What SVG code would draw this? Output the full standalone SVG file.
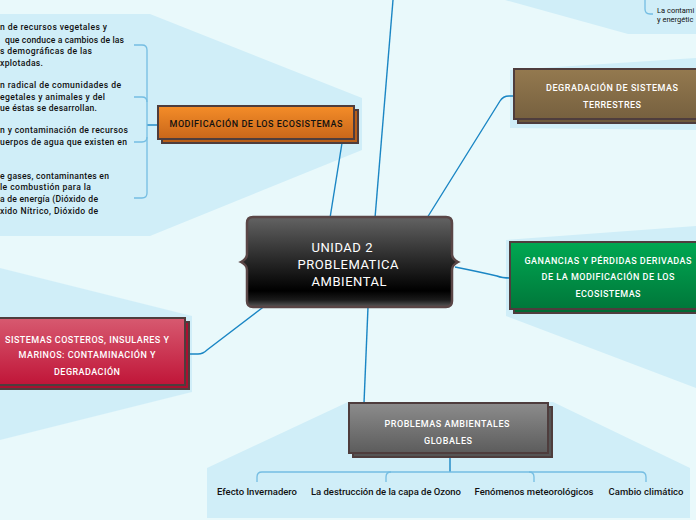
<svg xmlns="http://www.w3.org/2000/svg" width="696" height="520" viewBox="0 0 696 520">
<defs>
<linearGradient id="gOrange" x1="0" y1="0" x2="0" y2="1"><stop offset="0" stop-color="#f58d28"/><stop offset="1" stop-color="#c8661a"/></linearGradient>
<linearGradient id="gBrown" x1="0" y1="0" x2="0" y2="1"><stop offset="0" stop-color="#94794f"/><stop offset="1" stop-color="#76603f"/></linearGradient>
<linearGradient id="gGreen" x1="0" y1="0" x2="0" y2="1"><stop offset="0" stop-color="#00a852"/><stop offset="1" stop-color="#00773a"/></linearGradient>
<linearGradient id="gRed" x1="0" y1="0" x2="0" y2="1"><stop offset="0" stop-color="#d75a70"/><stop offset="1" stop-color="#c01538"/></linearGradient>
<linearGradient id="gGray" x1="0" y1="0" x2="0" y2="1"><stop offset="0" stop-color="#8c8c8c"/><stop offset="1" stop-color="#5c5c5c"/></linearGradient>
<linearGradient id="gCenter" x1="0" y1="0" x2="0" y2="1"><stop offset="0" stop-color="#636363"/><stop offset="0.45" stop-color="#2c2c2c"/><stop offset="0.82" stop-color="#000"/><stop offset="0.92" stop-color="#1a1a1a"/><stop offset="1" stop-color="#5a5a5a"/></linearGradient>
<style>
.panel{fill:#d0eef8}
.box{stroke:#4e3d3d;stroke-width:2}
.wt{font-family:Roboto,"Liberation Sans",sans-serif;font-size:9px;fill:#fff;text-anchor:middle;font-weight:500}
.bt{font-family:Roboto,"Liberation Sans",sans-serif;font-size:8.6px;fill:#111;font-weight:500}
.lt{font-family:Roboto,"Liberation Sans",sans-serif;font-size:9.5px;fill:#111;text-anchor:middle;font-weight:500}
.conn{fill:none;stroke:#1a86c4;stroke-width:1.4}
.brk{fill:none;stroke:#74bde2;stroke-width:1.3}
</style>
</defs>
<rect width="696" height="520" fill="#e9f9fb"/>
<g id="panels">
<polygon class="panel" points="0,14 150,14 362,98 362,150 150,236 0,236"/>
<polygon class="panel" points="505,0 696,0 696,34 628,34"/>
<polygon class="panel" points="510,70 696,58 696,130 510,128"/>
<polygon class="panel" points="506,240 696,226 696,388 506,316"/>
<polygon class="panel" points="0,268 192,316 192,392 0,440"/>
<polygon class="panel" points="207,468 348,402 553,402 690,468 690,518 207,518"/>
</g>
<g id="connectors">
<path class="conn" d="M330,218 L342,143"/>
<path class="conn" d="M375,218 L393,0"/>
<path class="conn" d="M427,218 L500,101 Q503,96 509,96 L514,96"/>
<path class="conn" d="M455,267 Q480,272 497,276 Q502,278 510,278"/>
<path class="conn" d="M368,307 L364,403"/>
<path class="conn" d="M266,305 L207,350 Q203,354 198,354 L186,354"/>
<path class="conn" d="M158,125 L147,125"/>
<path class="brk" d="M134,45 H142 Q147,45 147,50 V193 Q147,198 142,198 H134"/>
<path class="brk" d="M134,97 H142 Q147,97 147,102"/>
<path class="brk" d="M134,142 H142 Q147,142 147,137"/>
<path class="conn" d="M450,453 V472"/>
<path class="brk" d="M257,482 V477 Q257,472 262,472 H641 Q646,472 646,477 V482"/>
<path class="brk" d="M386,482 V477 Q386,472 391,472"/>
<path class="brk" d="M534,482 V477 Q534,472 529,472"/>
<path class="brk" d="M645,0 V9 Q645,14 650,14 H653"/>
</g>
<g id="modificacion-detalles">
<text class="bt" x="0" y="30" textLength="107" lengthAdjust="spacing">n de recursos vegetales y</text>
<text class="bt" x="5" y="43" textLength="119" lengthAdjust="spacing">que conduce a cambios de las</text>
<text class="bt" x="0" y="54" textLength="92" lengthAdjust="spacing">s demográficas de las</text>
<text class="bt" x="0" y="66" textLength="43" lengthAdjust="spacing">xplotadas.</text>
<text class="bt" x="0" y="88" textLength="121" lengthAdjust="spacing">n radical de comunidades de</text>
<text class="bt" x="0" y="100" textLength="105" lengthAdjust="spacing">egetales y animales y del</text>
<text class="bt" x="0" y="111" textLength="97" lengthAdjust="spacing">ue éstas se desarrollan.</text>
<text class="bt" x="0" y="133" textLength="128" lengthAdjust="spacing">n y contaminación de recursos</text>
<text class="bt" x="0" y="145" textLength="127" lengthAdjust="spacing">uerpos de agua que existen en</text>
<text class="bt" x="0" y="179" textLength="109" lengthAdjust="spacing">e gases, contaminantes en</text>
<text class="bt" x="0" y="190" textLength="91" lengthAdjust="spacing">le combustión para la</text>
<text class="bt" x="0" y="202" textLength="98" lengthAdjust="spacing">a de energía (Dióxido de</text>
<text class="bt" x="0" y="214" textLength="98" lengthAdjust="spacing">xido Nítrico, Dióxido de</text>
</g>
<g id="top-right-detalle">
<text class="bt" x="657" y="13" style="font-size:7.5px;font-weight:400">La contami</text>
<text class="bt" x="657" y="22" style="font-size:7.5px;font-weight:400">y energétic</text>
</g>
<g id="node-modificacion">
<rect class="box" x="162" y="110" width="196" height="33" fill="#b85e18"/>
<rect class="box" x="158" y="106" width="196" height="33" fill="url(#gOrange)"/>
<text x="256" y="127" textLength="173" lengthAdjust="spacing" style="font-family:Roboto,'Liberation Sans',sans-serif;font-size:9px;fill:#111;text-anchor:middle;font-weight:500">MODIFICACIÓN DE LOS ECOSISTEMAS</text>
</g>
<g id="node-degradacion">
<rect class="box" x="518" y="73" width="190" height="50" fill="#6e5a3c"/>
<rect class="box" x="514" y="69" width="190" height="50" fill="url(#gBrown)"/>
<text class="wt" x="612" y="91" textLength="132" lengthAdjust="spacing">DEGRADACIÓN DE SISTEMAS</text>
<text class="wt" x="612" y="108" textLength="58" lengthAdjust="spacing">TERRESTRES</text>
</g>
<g id="node-ganancias">
<rect class="box" x="514" y="246" width="194" height="67" fill="#006a33"/>
<rect class="box" x="510" y="242" width="194" height="67" fill="url(#gGreen)"/>
<text class="wt" x="608" y="264" textLength="167" lengthAdjust="spacing">GANANCIAS Y PÉRDIDAS DERIVADAS</text>
<text class="wt" x="608" y="280" textLength="133" lengthAdjust="spacing">DE LA MODIFICACIÓN DE LOS</text>
<text class="wt" x="608" y="297" textLength="65" lengthAdjust="spacing">ECOSISTEMAS</text>
</g>
<g id="node-sistemas-costeros">
<rect class="box" x="-10" y="322" width="199" height="67" fill="#a81030"/>
<rect class="box" x="-14" y="318" width="199" height="67" fill="url(#gRed)"/>
<text class="wt" x="87" y="343" textLength="164" lengthAdjust="spacing">SISTEMAS COSTEROS, INSULARES Y</text>
<text class="wt" x="87" y="358" textLength="137" lengthAdjust="spacing">MARINOS: CONTAMINACIÓN Y</text>
<text class="wt" x="87" y="375" textLength="66" lengthAdjust="spacing">DEGRADACIÓN</text>
</g>
<g id="node-problemas-globales">
<rect class="box" x="353" y="407" width="199" height="50" fill="#555"/>
<rect class="box" x="349" y="403" width="199" height="50" fill="url(#gGray)"/>
<text class="wt" x="447" y="427" textLength="125" lengthAdjust="spacing">PROBLEMAS AMBIENTALES</text>
<text class="wt" x="448" y="444" textLength="48" lengthAdjust="spacing">GLOBALES</text>
</g>
<g id="node-efecto"><text class="lt" x="257" y="495" textLength="80" lengthAdjust="spacing">Efecto Invernadero</text></g>
<g id="node-ozono"><text class="lt" x="386" y="495" textLength="150" lengthAdjust="spacing">La destrucción de la capa de Ozono</text></g>
<g id="node-fenomenos"><text class="lt" x="534" y="495" textLength="119" lengthAdjust="spacing">Fenómenos meteorológicos</text></g>
<g id="node-cambio"><text class="lt" x="646" y="495" textLength="75" lengthAdjust="spacing">Cambio climático</text></g>
<g id="node-central">
<path d="M253,217 H446 Q452,217 452,223 V254 Q452,259 458,262 Q452,265 452,270 V301 Q452,307 446,307 H253 Q247,307 247,301 V270 Q247,265 241,262 Q247,259 247,254 V223 Q247,217 253,217 Z" fill="url(#gCenter)" stroke="#5a4646" stroke-width="2.5"/>
<text x="342" y="252" textLength="61" lengthAdjust="spacing" style="font-family:Roboto,'Liberation Sans',sans-serif;font-size:13px;fill:#fff;text-anchor:middle">UNIDAD 2</text>
<text x="348" y="269" textLength="101" lengthAdjust="spacing" style="font-family:Roboto,'Liberation Sans',sans-serif;font-size:13px;fill:#fff;text-anchor:middle">PROBLEMATICA</text>
<text x="349" y="286" textLength="75" lengthAdjust="spacing" style="font-family:Roboto,'Liberation Sans',sans-serif;font-size:13px;fill:#fff;text-anchor:middle">AMBIENTAL</text>
</g>
</svg>
